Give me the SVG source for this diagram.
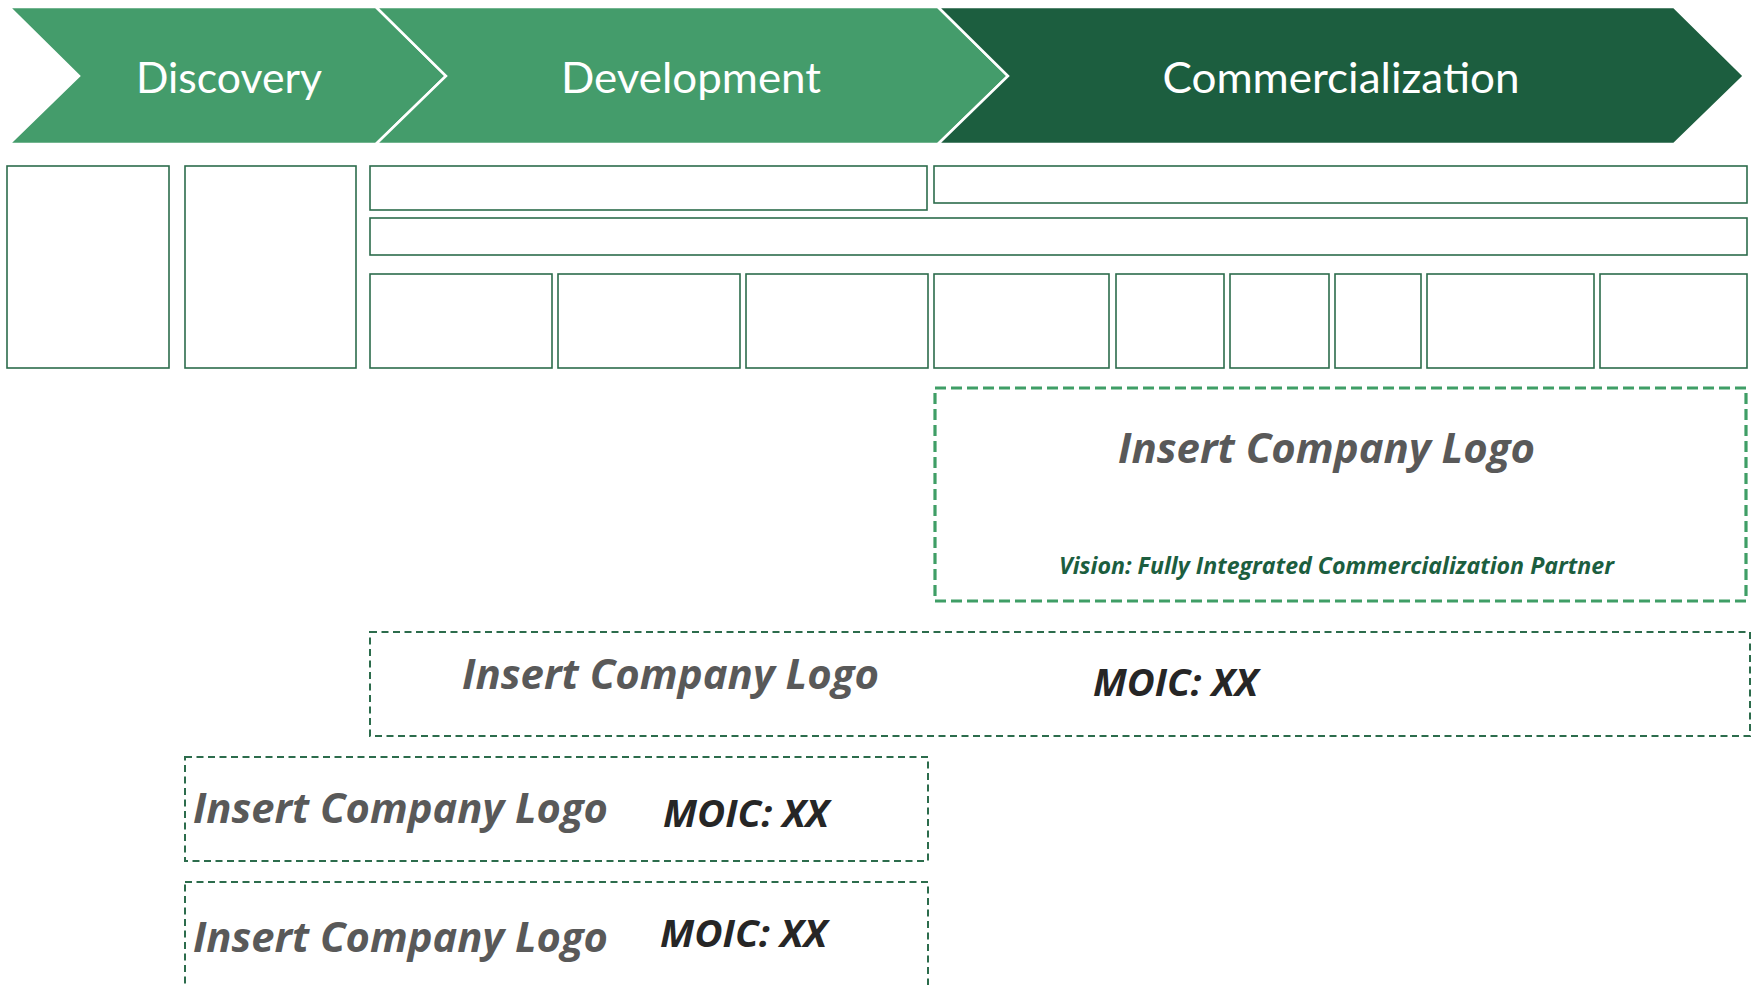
<svg xmlns="http://www.w3.org/2000/svg" width="1752" height="985" viewBox="0 0 1752 985">
  <style>
    .chev { stroke: #ffffff; stroke-width: 2.5; stroke-linejoin: miter; }
    .light { fill: #449C6B; }
    .dark { fill: #1C5E3F; }
    .phase { font-family: Lato, "Open Sans", sans-serif; font-size: 43px; fill: #ffffff; }
    .cell { fill: none; stroke: #2C6C4C; stroke-width: 1.6; }
    .slot { fill: none; stroke: #2C6C4C; stroke-width: 2; stroke-dasharray: 7 4.5; }
    .slot-main { fill: none; stroke: #3F9E66; stroke-width: 3.2; stroke-dasharray: 11 5; }
    .logo { font-family: "Open Sans", Lato, sans-serif; font-weight: bold; font-style: italic; font-size: 42px; fill: #595959; }
    .moic { font-family: "Open Sans", Lato, sans-serif; font-weight: bold; font-style: italic; font-size: 38px; fill: #262626; }
    .vision { font-family: "Open Sans", Lato, sans-serif; font-weight: bold; font-style: italic; font-size: 23px; fill: #1C5E3F; }
  </style>

  <!-- phase chevrons -->
  <g id="phase-discovery">
    <polygon class="chev light" points="9,7 376,7 446,76 376,144 9,144 79,76"/>
    <text class="phase" x="229" y="93" text-anchor="middle" textLength="186" lengthAdjust="spacingAndGlyphs">Discovery</text>
  </g>
  <g id="phase-development">
    <polygon class="chev light" points="376,7 938,7 1008,76 938,144 376,144 446,76"/>
    <text class="phase" x="691" y="93" text-anchor="middle" textLength="260" lengthAdjust="spacingAndGlyphs">Development</text>
  </g>
  <g id="phase-commercialization">
    <polygon class="chev dark" points="938,7 1674,7 1744,76 1674,144 938,144 1008,76"/>
    <text class="phase" x="1341" y="93" text-anchor="middle" textLength="357" lengthAdjust="spacingAndGlyphs">Commercialization</text>
  </g>

  <!-- capability grid -->
  <g id="grid">
    <rect class="cell" x="7" y="166" width="162" height="202"/>
    <rect class="cell" x="185" y="166" width="171" height="202"/>
    <rect class="cell" x="370" y="166" width="557" height="44"/>
    <rect class="cell" x="934" y="166" width="813" height="37"/>
    <rect class="cell" x="370" y="218" width="1377" height="37"/>
    <rect class="cell" x="370" y="274" width="182" height="94"/>
    <rect class="cell" x="558" y="274" width="182" height="94"/>
    <rect class="cell" x="746" y="274" width="182" height="94"/>
    <rect class="cell" x="934" y="274" width="175" height="94"/>
    <rect class="cell" x="1116" y="274" width="108" height="94"/>
    <rect class="cell" x="1230" y="274" width="99" height="94"/>
    <rect class="cell" x="1335" y="274" width="86" height="94"/>
    <rect class="cell" x="1427" y="274" width="167" height="94"/>
    <rect class="cell" x="1600" y="274" width="147" height="94"/>
  </g>

  <!-- company slots -->
  <g id="slot-commercial">
    <rect class="slot-main" x="935" y="388" width="811" height="213"/>
    <text class="logo" x="1118" y="463" textLength="417" lengthAdjust="spacingAndGlyphs">Insert Company Logo</text>
    <text class="vision" x="1059" y="574" textLength="555" lengthAdjust="spacingAndGlyphs">Vision: Fully Integrated Commercialization Partner</text>
  </g>
  <g id="slot-development">
    <rect class="slot" x="370" y="632" width="1380" height="104"/>
    <text class="logo" x="462" y="689" textLength="417" lengthAdjust="spacingAndGlyphs">Insert Company Logo</text>
    <text class="moic" x="1093" y="696" textLength="165" lengthAdjust="spacingAndGlyphs">MOIC: XX</text>
  </g>
  <g id="slot-discovery-1">
    <rect class="slot" x="185" y="757" width="743" height="104"/>
    <text class="logo" x="193" y="823" textLength="415" lengthAdjust="spacingAndGlyphs">Insert Company Logo</text>
    <text class="moic" x="663" y="827" textLength="166" lengthAdjust="spacingAndGlyphs">MOIC: XX</text>
  </g>
  <g id="slot-discovery-2">
    <rect class="slot" x="185" y="882" width="743" height="130"/>
    <text class="logo" x="193" y="952" textLength="415" lengthAdjust="spacingAndGlyphs">Insert Company Logo</text>
    <text class="moic" x="660" y="947" textLength="167" lengthAdjust="spacingAndGlyphs">MOIC: XX</text>
  </g>
</svg>
